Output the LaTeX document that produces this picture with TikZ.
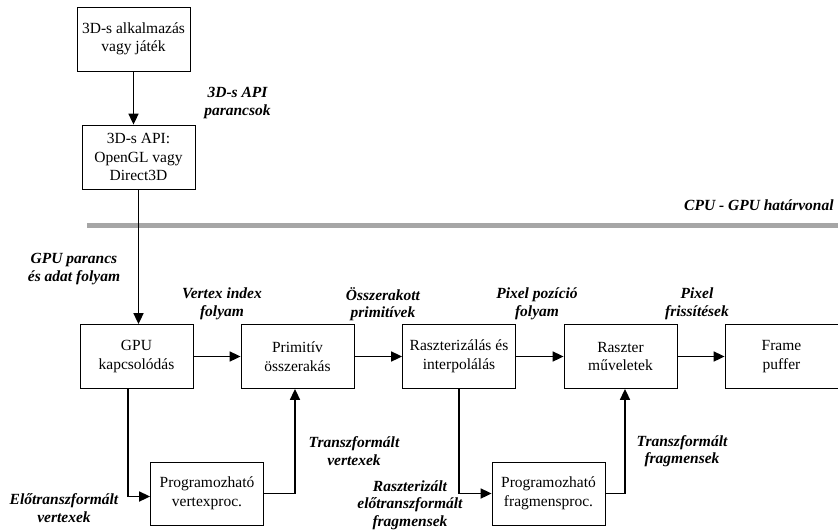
\documentclass[tikz,border=0pt]{standalone}
\usepackage{fontspec}
\setmainfont{Liberation Serif}
\usetikzlibrary{arrows.meta}
\usetikzlibrary{positioning}

\begin{document}
\begin{tikzpicture}[x=1pt,y=-1pt,
  block/.style={draw,line width=0.8pt,minimum width=113pt,minimum height=64pt,
    inner sep=2pt,align=center,font=\fontsize{15.5}{18.5}\selectfont},
  note/.style={align=center,inner sep=1pt,
    font=\fontsize{15.5}{17.5}\selectfont\bfseries\itshape},
  flow/.style={line width=1.7pt,-{Triangle[length=11pt,width=10pt]}},
  boundary/.style={line width=5pt,color=black!35}]
  \useasboundingbox (0,0) rectangle (838,531);

  %CPU side
  \node[block] (app) at (133.5,39) {3D-s alkalmazás\\vagy játék};
  \node[block] (api) at (138.5,157) {3D-s API:\\OpenGL vagy\\Direct3D};

  %draw boundary line
  \coordinate (bl) at (87,225);
  \coordinate (br) at (838,225);
  \draw[boundary] (bl) -- (br);

  %GPU pipeline
  \node[block] (gpu) at (136.5,356.5) {GPU\\kapcsolódás};
  \node[block] (prim) at (297.5,356.5) {Primitív\\összerakás};
  \node[block] (rast) at (459,356.5) {Raszterizálás és\\interpolálás};
  \node[block] (rop) at (620.5,356.5) {Raszter\\műveletek};
  \node[block] (fb) at (781.5,356.5) {Frame\\puffer};
  \node[block,minimum height=63pt] (vproc) at (207,493.5) {Programozható\\vertexproc.};
  \node[block,minimum height=63pt] (fproc) at (548.5,493.5) {Programozható\\fragmensproc.};

  %arrows
  \draw[flow] (app.south) -- (app.south |- api.north);
  \draw[flow] (api.south) -- (api.south |- gpu.north);
  \draw[flow] (gpu) -- (prim);
  \draw[flow] (prim) -- (rast);
  \draw[flow] (rast) -- (rop);
  \draw[flow] (rop) -- (fb);
  \draw[flow] ([xshift=-8.5pt]gpu.south) |- ([yshift=-3pt]vproc.west);
  \draw[flow] (vproc.east) -| ([xshift=-2.5pt]prim.south);
  \draw[flow] (rast.south) |- (fproc.west);
  \draw[flow] (fproc.east) -| ([xshift=4.5pt]rop.south);

  %labels
  \node[note] (lapi) at (237.5,103) {3D-s API\\parancsok};
  \node[note,anchor=west] (lbound) at (683,205) {CPU - GPU határvonal};
  \node[note] (lcmd) at (74,269) {GPU parancs\\és adat folyam};
  \node[note] (lvidx) at (222,304) {Vertex index\\folyam};
  \node[note] (lprims) at (383,304) {Összerakott\\primitívek};
  \node[note] (lpix) at (537,304) {Pixel pozíció\\folyam};
  \node[note] (lupd) at (697,304) {Pixel\\frissítések};
  \node[note] (ltv) at (354,451) {Transzformált\\vertexek};
  \node[note] (lpre) at (64,508) {Előtranszformált\\vertexek};
  \node[note] (lrf) at (410,505) {Raszterizált\\előtranszformált\\fragmensek};
  \node[note] (ltf) at (682,451) {Transzformált\\fragmensek};
\end{tikzpicture}
\end{document}
